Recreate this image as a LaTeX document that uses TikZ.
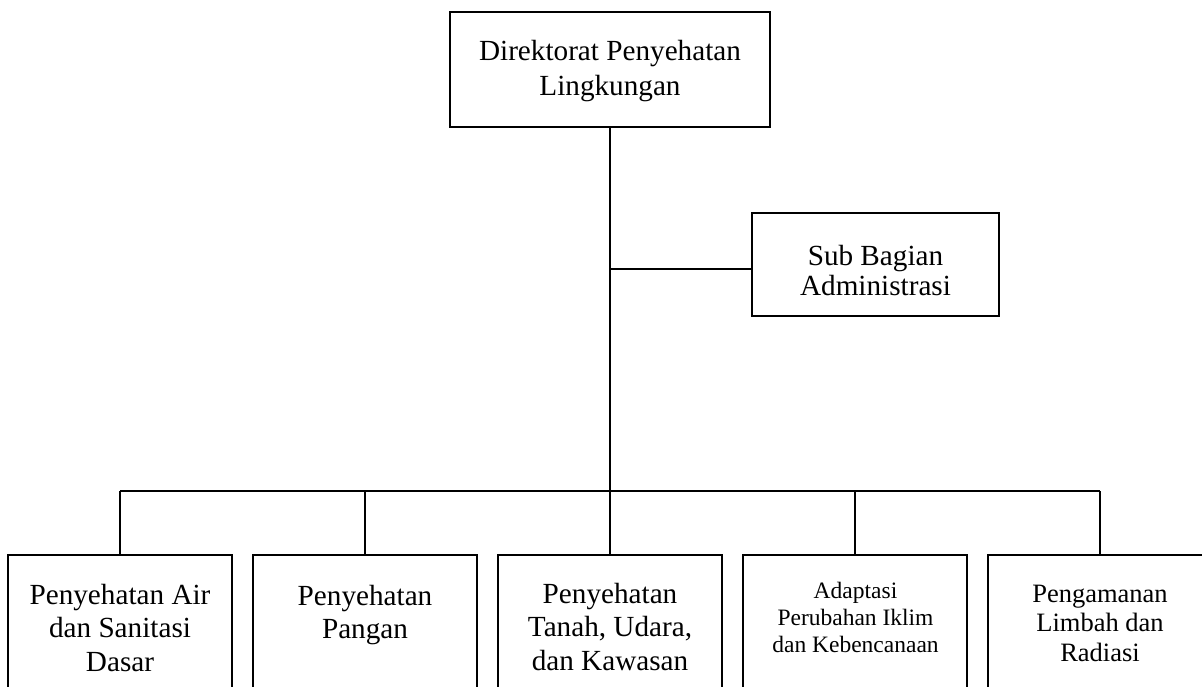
\documentclass[tikz,border=0pt]{standalone}
\usepackage{fontspec}
\setmainfont{Liberation Serif}
\begin{document}
\begin{tikzpicture}[x=1pt,y=-1pt,
  box/.style={draw=black, line width=1.3pt, rectangle, inner sep=0pt, outer sep=0pt},
  conn/.style={draw=black, line width=1.3pt},
  txt/.style={align=center, inner sep=0pt, anchor=north},
  big/.style={font=\fontsize{29.2}{33.5}\selectfont},
  mid/.style={font=\fontsize{26.5}{29.5}\selectfont},
  small/.style={font=\fontsize{23.5}{27}\selectfont}]
\useasboundingbox (0,0) rectangle (1202,687);
\clip (0,0) rectangle (1202,687);
% top boxes
\node[box, minimum width=320pt, minimum height=115pt] (dir) at (610,69.5) {};
\node[txt, font=\fontsize{29.2}{35}\selectfont, anchor=center] (dirt) at ([yshift=-1.2pt]dir.center) {Direktorat Penyehatan\\Lingkungan};
\node[box, minimum width=247pt, minimum height=103pt] (sub) at (875.5,264.5) {};
\node[txt, font=\fontsize{29.2}{30}\selectfont, anchor=center] (subt) at ([yshift=-6.5pt]sub.center) {Sub Bagian\\Administrasi};
% bottom boxes (cut by the lower edge)
\node[box, minimum width=224pt, minimum height=165pt] (b1) at (120,637.5) {};
\node[box, minimum width=224pt, minimum height=165pt] (b2) at (365,637.5) {};
\node[box, minimum width=224pt, minimum height=165pt] (b3) at (610,637.5) {};
\node[box, minimum width=224pt, minimum height=165pt] (b4) at (855,637.5) {};
\node[box, minimum width=224pt, minimum height=165pt] (b5) at (1100,637.5) {};
\node[txt, big] (t1) at (120,584) {Penyehatan Air\\dan Sanitasi\\Dasar};
\node[txt, big] (t2) at (365,585) {Penyehatan\\Pangan};
\node[txt, big] (t3) at (610,583) {Penyehatan\\Tanah, Udara,\\dan Kawasan};
\node[txt, small] (t4) at (855.5,582) {Adaptasi\\Perubahan Iklim\\dan Kebencanaan};
\node[txt, mid] (t5) at (1100,584.5) {Pengamanan\\Limbah dan\\Radiasi};
% connectors
\coordinate (busL) at (120,491);
\coordinate (busR) at (1100,491);
\coordinate (sj) at ([yshift=-4.5pt]sub.west);
\draw[conn] (dir.south) -- (dir.south |- busL);
\draw[conn] (dir.south |- sj) -- (sj);
\draw[conn] (busL) -- (busR);
\foreach \b in {b1,b2,b3,b4,b5} \draw[conn] (\b.north |- busL) -- (\b.north);
\end{tikzpicture}
\end{document}
